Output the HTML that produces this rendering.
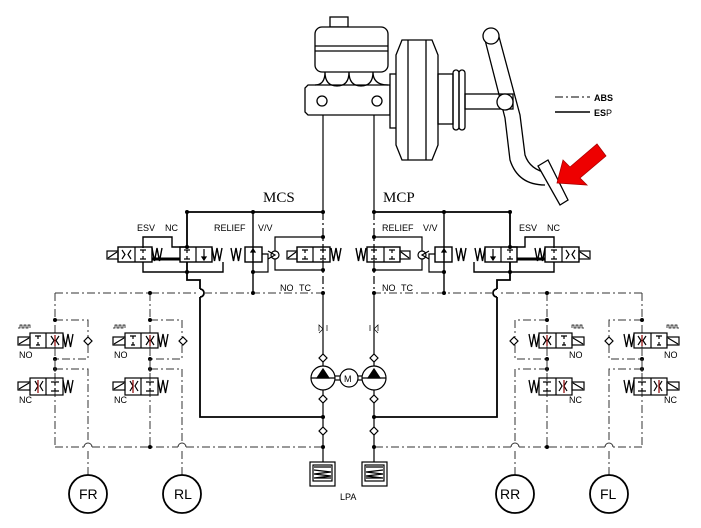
<!DOCTYPE html>
<html><head><meta charset="utf-8"><style>
html,body{margin:0;padding:0;background:#fff}
svg{display:block}
text{font-family:"Liberation Sans",sans-serif;font-size:9px;fill:#000}
.serif{font-family:"Liberation Serif",serif;font-size:15px}
</style></head><body>
<svg width="701" height="528" viewBox="0 0 701 528" xmlns="http://www.w3.org/2000/svg">
<defs>
<g id="half" fill="none" stroke="#000" stroke-width="1.2">
  <line x1="323" y1="103" x2="323" y2="212"/>
  <line x1="323" y1="212" x2="323" y2="293" stroke-dasharray="8 3 2 3"/>
  <line x1="323" y1="293" x2="323" y2="462"/>
  <polyline points="187,248 187,212 323,212" stroke-width="1.8"/>
  <polyline points="143,248 143,237 172,237 172,247 187,247" stroke-width="1.4"/>
  <polyline points="143,262 143,272 223,272 223,262" stroke-width="1.4"/>
  <line x1="152" y1="259" x2="180" y2="259" stroke-width="3"/>
  <polyline points="187,262 187,280 200,280 200,289" stroke-width="1.8"/>
  <path d="M200,289 a4,4 0 0 1 0,8" stroke-width="1.8"/>
  <polyline points="200,297 200,417 323,417" stroke-width="1.8"/>
  <line x1="253" y1="212" x2="253" y2="293" stroke-width="1.4"/>
  <polyline points="262,254 268,254 268,272 253,272"/>
  <polyline points="275,251 275,237 323,237"/>
  <polyline points="275,259 275,270 323,270"/>
  <g stroke-dasharray="8 3 2 3" stroke="#333" stroke-width="1">
    <line x1="55" y1="293" x2="196" y2="293"/>
    <line x1="204" y1="293" x2="323" y2="293"/>
    <line x1="55" y1="293" x2="55" y2="447"/>
    <line x1="150" y1="293" x2="150" y2="447"/>
    <polyline points="55,320 88,320 88,337"/>
    <polyline points="88,345 88,359 55,359"/>
    <polyline points="150,320 182,320 182,337"/>
    <polyline points="182,345 182,359 150,359"/>
    <polyline points="55,369 88,369 88,443"/>
    <polyline points="150,369 182,369 182,443"/>
    <line x1="88" y1="451" x2="88" y2="475"/>
    <line x1="182" y1="451" x2="182" y2="475"/>
    <line x1="55" y1="447" x2="84" y2="447"/>
    <line x1="92" y1="447" x2="178" y2="447"/>
    <line x1="186" y1="447" x2="323" y2="447"/>
  </g>
  <path d="M84,447 a4,4 0 0 1 8,0 M178,447 a4,4 0 0 1 8,0" stroke="#333" stroke-width="1"/>
  <g fill="#000" stroke="none">
    <circle cx="187" cy="212" r="2"/><circle cx="253" cy="212" r="2"/><circle cx="323" cy="212" r="2"/>
    <circle cx="187" cy="247" r="2"/><circle cx="187" cy="272" r="2"/>
    <circle cx="253" cy="272" r="2"/><circle cx="253" cy="293" r="2"/><circle cx="323" cy="293" r="2"/>
    <circle cx="323" cy="237" r="2"/><circle cx="323" cy="270" r="2"/>
    <circle cx="150" cy="293" r="2"/>
    <circle cx="55" cy="320" r="2"/><circle cx="55" cy="359" r="2"/><circle cx="55" cy="369" r="2"/>
    <circle cx="150" cy="320" r="2"/><circle cx="150" cy="359" r="2"/><circle cx="150" cy="369" r="2"/>
    <circle cx="150" cy="447" r="2"/><circle cx="323" cy="417" r="2"/><circle cx="323" cy="447" r="2"/>
  </g>
  <!-- ESV -->
  <rect x="107" y="251" width="11" height="8"/><line x1="108" y1="258" x2="117" y2="252"/>
  <rect x="118" y="247" width="34" height="15" stroke-width="1.4"/><line x1="135" y1="247" x2="135" y2="262"/>
  <path d="M122,250 l3,4.5 l-3,4.5 M131,250 l-3,4.5 l3,4.5"/>
  <path d="M140,250 h6 M140,259 h6 M143,250 v3 M143,256 v3"/>
  <path d="M152,248 l2.5,13 l2.5,-13 l2.5,13 l2.5,-13" stroke-width="1.4"/>
  <!-- NC -->
  <rect x="180" y="247" width="32" height="15" stroke-width="1.4"/><line x1="196" y1="247" x2="196" y2="262"/>
  <path d="M184,250 h6 M184,259 h6 M187,250 v3 M187,256 v3"/>
  <line x1="204" y1="249" x2="204" y2="260"/><path d="M202,257 l2,3 l2,-3z" fill="#000"/>
  <path d="M212,248 l2.5,13 l2.5,-13 l2.5,13 l2.5,-13" stroke-width="1.4"/>
  <!-- relief -->
  <path d="M231,248 l2.5,13 l2.5,-13 l2.5,13 l2.5,-13" stroke-width="1.4"/>
  <rect x="245" y="247" width="17" height="15" stroke-width="1.4"/>
  <line x1="253" y1="249" x2="253" y2="260"/><path d="M251,252 l2,-3 l2,3z" fill="#000"/>
  <circle cx="275" cy="255" r="4"/><path d="M268,251 l7,4 l-7,4"/>
  <!-- TC -->
  <rect x="287" y="251" width="10" height="8"/><line x1="288" y1="258" x2="296" y2="252"/>
  <rect x="297" y="247" width="33" height="15" stroke-width="1.4"/><line x1="313" y1="247" x2="313" y2="262"/>
  <path d="M302,250 h6 M302,259 h6 M305,250 v3 M305,256 v3"/>
  <path d="M320,250 h6 M320,259 h6 M323,250 v3 M323,256 v3"/>
  <path d="M331,248 l2.5,13 l2.5,-13 l2.5,13 l2.5,-13" stroke-width="1.4"/>
  <g id="wv">
    <rect x="18" y="337" width="12" height="8"/><line x1="19" y1="344" x2="29" y2="338"/>
    <rect x="30" y="333" width="33" height="15"/><line x1="46" y1="333" x2="46" y2="348"/>
    <path d="M35,336 h6 M38,336 v3 M36,345 h4 M38,342 v3"/>
    <path d="M51,336 l3,4.5 l-3,4.5 M59,336 l-3,4.5 l3,4.5"/>
    <line x1="55" y1="335" x2="55" y2="346" stroke="#8b0000"/>
    <path d="M63,334 l2.5,13 l2.5,-13 l2.5,13 l2.5,-13" stroke-width="1.3"/>
    <path d="M84,341 l4,-4 l4,4 l-4,4z"/>
    <path d="M18,328 h2 v-3 h2 v3 h2 v-3 h2 v3 h2 v-3 h2 v3" stroke-width="0.7"/>
    <rect x="18" y="382" width="12" height="8"/><line x1="19" y1="389" x2="29" y2="383"/>
    <rect x="30" y="378" width="33" height="17"/><line x1="46" y1="378" x2="46" y2="395"/>
    <path d="M35,381 l3,5 l-3,5 M43,381 l-3,5 l3,5"/>
    <line x1="38" y1="380" x2="38" y2="393" stroke="#8b0000"/>
    <path d="M51,382 h8 M55,382 v3 M51,391 h8 M55,388 v3"/>
    <path d="M63,380 l2.5,13 l2.5,-13 l2.5,13 l2.5,-13" stroke-width="1.3"/>
    <line x1="55" y1="348" x2="55" y2="378" stroke="#333" stroke-width="1" stroke-dasharray="8 3 2 3"/>
  </g>
  <use href="#wv" transform="translate(95,0)"/>
  <circle cx="88" cy="494" r="19" stroke-width="1.8"/>
  <circle cx="182" cy="494" r="19" stroke-width="1.8"/>
  <path d="M319,331 v-6 l4,4 l-4,4 M327,331 v-6" stroke-width="0.7"/>
  <path d="M319,358 l4,-4 l4,4 l-4,4z" fill="#fff"/>
  <circle cx="323" cy="378" r="12" fill="#fff"/>
  <path d="M317,378 l6,-9 l6,9z" fill="#000"/>
  <line x1="311" y1="378" x2="335" y2="378"/>
  <path d="M319,399 l4,-4 l4,4 l-4,4z" fill="#fff"/>
  <path d="M319,431 l4,-4 l4,4 l-4,4z" fill="#fff"/>
  <line x1="335" y1="376" x2="340" y2="376"/><line x1="335" y1="380" x2="340" y2="380"/>
  <rect x="310" y="462" width="25" height="24"/>
  <rect x="313" y="465" width="19" height="16"/>
  <path d="M314,467 h17 M314,470 l17,2 l-17,2 l17,2 l-17,2 h17"/>
</g>
</defs>
<use href="#half"/>
<use href="#half" transform="translate(697,0) scale(-1,1)"/>
<circle cx="349" cy="378" r="9" fill="#fff" stroke="#000" stroke-width="1.2"/>
<text x="344" y="382">M</text>
<g fill="none" stroke="#000" stroke-width="1.3">
  <rect x="330" y="17" width="18" height="10" fill="#fff"/>
  <rect x="315" y="27" width="73" height="45" rx="7" fill="#fff"/>
  <line x1="315" y1="46" x2="388" y2="46"/><line x1="315" y1="51" x2="388" y2="51"/>
  <path d="M308,85 h82 v30 h-82 l-3,-3 v-24z" fill="#fff"/>
  <path d="M325,72 q0,14 12,14 q12,0 12,-14 M349,72 q0,14 12,14 q12,0 12,-14 M325,72 q0,13 -10,13 M373,72 q0,13 15,13"/>
  <circle cx="322" cy="101" r="5"/><circle cx="377" cy="101" r="5"/>
  <rect x="390" y="74" width="8" height="54" fill="#fff"/>
  <path d="M402,40 h30 l6,15 v90 l-6,15 h-30 l-6,-15 v-90z" fill="#fff"/>
  <line x1="408" y1="40" x2="408" y2="160"/><line x1="426" y1="40" x2="426" y2="160"/>
  <rect x="438" y="74" width="15" height="50"/>
  <rect x="453" y="70" width="6" height="60" rx="3"/><rect x="459" y="70" width="6" height="60" rx="3"/>
  <rect x="465" y="94" width="48" height="15"/>
  <path d="M484,36 L505,118 L510,160 Q518,185 545,185 M498,33 L520,115 L525,155 Q530,170 548,173"/>
  <circle cx="491" cy="36" r="8" fill="#fff"/>
  <circle cx="505" cy="102" r="8" fill="#fff"/>
  <path d="M538,166 l10,-6 l20,40 l-8,5z" fill="#fff"/>
  <line x1="555" y1="97" x2="590" y2="97" stroke-dasharray="8 3 2 3" stroke-width="1"/>
  <line x1="555" y1="112" x2="590" y2="112" stroke-width="1.5"/>
</g>
<path d="M557,183 L563,160 L570,167 L597,144 L606,156 L580,178 L587,185 Z" fill="#e00" stroke="#a00" stroke-width="0.8"/>
<text x="594" y="101" style="font-weight:bold">ABS</text>
<text x="594" y="116"><tspan style="font-weight:bold">ES</tspan>P</text>
<text class="serif" x="263" y="202">MCS</text>
<text class="serif" x="383" y="202">MCP</text>
<text x="137" y="231">ESV</text><text x="165" y="231">NC</text>
<text x="214" y="231">RELIEF</text><text x="258" y="231">V/V</text>
<text x="280" y="291">NO</text><text x="299" y="291">TC</text>
<text x="382" y="231">RELIEF</text><text x="423" y="231">V/V</text>
<text x="519" y="231">ESV</text><text x="547" y="231">NC</text>
<text x="382" y="291">NO</text><text x="401" y="291">TC</text>
<text x="19" y="358">NO</text><text x="114" y="358">NO</text>
<text x="19" y="403">NC</text><text x="114" y="403">NC</text>
<text x="569" y="358">NO</text><text x="664" y="358">NO</text>
<text x="569" y="403">NC</text><text x="664" y="403">NC</text>
<text x="340" y="500">LPA</text>
<text x="79" y="499" style="font-size:14px">FR</text>
<text x="174" y="499" style="font-size:14px">RL</text>
<text x="500" y="499" style="font-size:14px">RR</text>
<text x="600" y="499" style="font-size:14px">FL</text>
</svg>
</body></html>
